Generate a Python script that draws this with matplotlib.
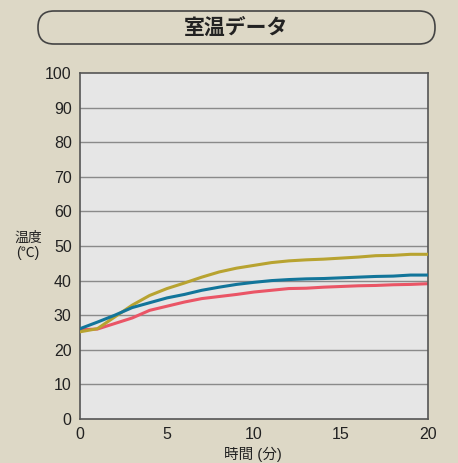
import matplotlib.pyplot as plt
from matplotlib.patches import FancyBboxPatch

plt.rcParams['font.family'] = ['Liberation Sans', 'Noto Sans CJK JP', 'DejaVu Sans']

# time in minutes
minutes = list(range(0, 21))

# room temperature series (°C)
temp_yellow = [25.2, 26.1, 29.5, 32.9, 35.7, 37.7, 39.3, 41.0, 42.5, 43.6, 44.4,
               45.2, 45.7, 46.0, 46.2, 46.5, 46.8, 47.2, 47.3, 47.6, 47.6]
temp_blue = [26.1, 28.0, 30.0, 32.2, 33.6, 35.0, 36.0, 37.2, 38.1, 38.9, 39.5,
             40.0, 40.3, 40.5, 40.6, 40.8, 41.0, 41.2, 41.3, 41.6, 41.6]
temp_red = [25.8, 26.0, 27.6, 29.2, 31.4, 32.6, 33.8, 34.8, 35.4, 36.0, 36.7,
            37.2, 37.7, 37.8, 38.1, 38.3, 38.5, 38.6, 38.8, 38.9, 39.1]

x_ticks = [0, 5, 10, 15, 20]
y_ticks = list(range(0, 101, 10))

bg = "#ddd8c6"
fig = plt.figure(figsize=(4.58, 4.63), dpi=100, facecolor=bg)
ax = fig.add_axes([80 / 458, 1 - 419 / 463, 348 / 458, 346 / 463])
ax.set_facecolor("#e6e6e6")

for y in y_ticks[1:-1]:
    ax.axhline(y, color="#8a8a8a", linewidth=1.0, zorder=1)

ax.plot(minutes, temp_yellow, color="#b8a330", linewidth=2.2, zorder=3)
ax.plot(minutes, temp_blue, color="#12759a", linewidth=2.2, zorder=4)
ax.plot(minutes, temp_red, color="#ea5566", linewidth=2.2, zorder=2)

ax.set_xlim(0, 20)
ax.set_ylim(0, 100)
ax.set_xticks(x_ticks)
ax.set_yticks(y_ticks)
ax.tick_params(length=0, labelsize=11.5, colors="#222222", pad=6)
for s in ax.spines.values():
    s.set_color("#555555")
    s.set_linewidth(1.2)

fig.text(28 / 458, 1 - 245 / 463, "温度\n(℃)", ha="center", va="center",
         fontsize=10, color="#222222", linespacing=1.1)
fig.text(253 / 458, 1 - 454 / 463, "時間 (分)", ha="center", va="center",
         fontsize=10.5, color="#222222")

# title box, drawn in pixel coordinates
box = FancyBboxPatch((38, 463 - 44), 397, 33,
                     boxstyle="round,pad=0,rounding_size=16",
                     transform=None, facecolor="none",
                     edgecolor="#444444", linewidth=1.2)
fig.patches.append(box)
fig.text(236 / 458, 1 - 28 / 463, "室温データ", ha="center", va="center",
         fontsize=15, fontweight="bold", color="#222222")

plt.savefig("out.png", dpi=100, facecolor=bg)
plt.close()
